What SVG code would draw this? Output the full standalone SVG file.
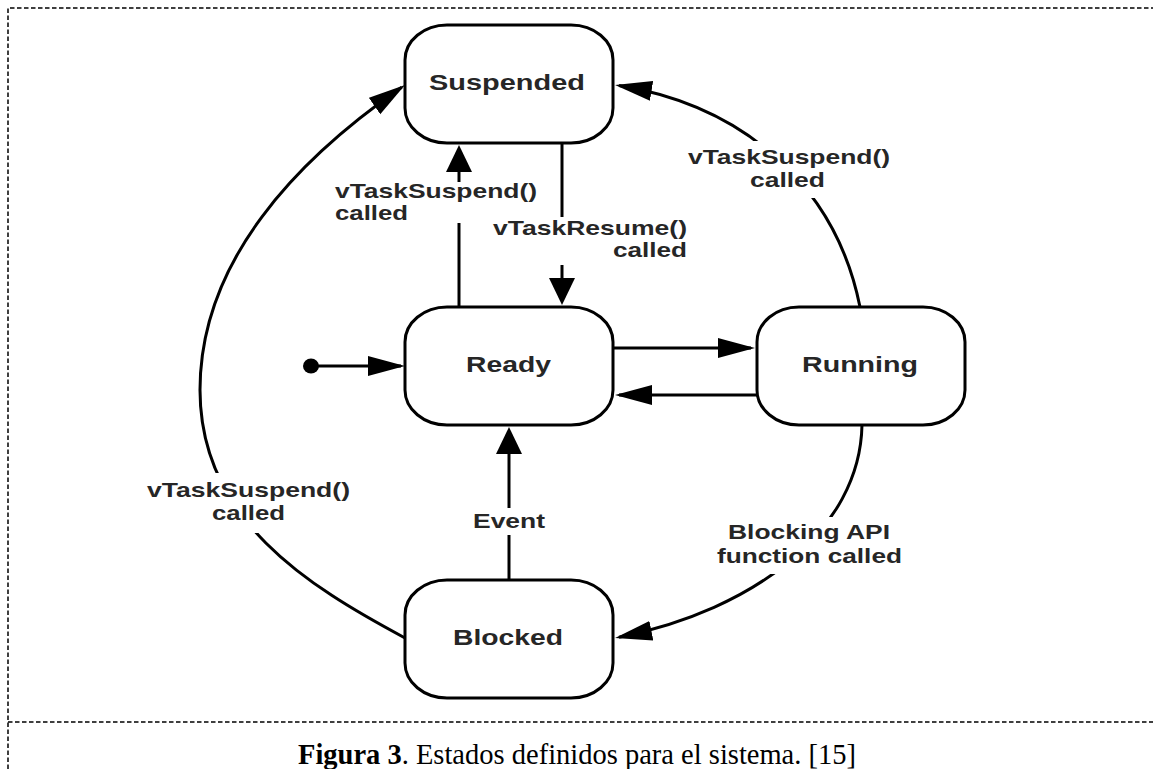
<svg xmlns="http://www.w3.org/2000/svg" width="1153" height="769" viewBox="0 0 1153 769">
<style>
.box{fill:#fff;stroke:#000;stroke-width:3}
.nl{font-family:"Liberation Sans",Arial,sans-serif;font-weight:bold;font-size:21.5px;fill:#262626}
.el{font-family:"Liberation Sans",Arial,sans-serif;font-weight:bold;font-size:21px;fill:#262626}
.edge{fill:none;stroke:#000;stroke-width:3}
.bg{fill:#fff}
.border{fill:none;stroke:#000;stroke-width:1.5;stroke-dasharray:4.5 2.5}
.cap{font-family:"Liberation Serif","Times New Roman",serif;font-size:28.5px;fill:#000}
</style>
<defs>
<marker id="ah" markerUnits="userSpaceOnUse" viewBox="0 0 38 22" markerWidth="38" markerHeight="22" refX="33" refY="11" orient="auto"><path d="M0,1 L37,11 L0,21 Z" fill="#000"/></marker>
<marker id="av" markerUnits="userSpaceOnUse" viewBox="0 0 28 28" markerWidth="28" markerHeight="28" refX="23" refY="14" orient="auto"><path d="M0,1 L27,14 L0,27 Z" fill="#000"/></marker>
</defs>
<rect width="1153" height="769" fill="#fff"/>
<g id="frame">
<path class="border" d="M8,769 L8,8 L1153,8"/>
<path class="border" d="M8,722 L1153,722"/>
</g>
<g id="connectors">
<g id="e-init">
<ellipse cx="311" cy="366" rx="8" ry="7.5" fill="#000"/>
<path class="edge" d="M311,366 L401,366" marker-end="url(#ah)"/>
</g>
<g id="e-ready-suspended">
<path class="edge" d="M459,307 L459,149" marker-end="url(#av)"/>
<rect class="bg" x="333" y="182" width="206" height="41"/>
<text class="el" x="335" y="198" textLength="202" lengthAdjust="spacingAndGlyphs">vTaskSuspend()</text>
<text class="el" x="335" y="220" textLength="73" lengthAdjust="spacingAndGlyphs">called</text>
</g>
<g id="e-suspended-ready">
<path class="edge" d="M562,143 L562,301" marker-end="url(#av)"/>
<rect class="bg" x="490" y="217" width="200" height="48"/>
<text class="el" x="493" y="235" textLength="194" lengthAdjust="spacingAndGlyphs">vTaskResume()</text>
<text class="el" x="613" y="257" textLength="74" lengthAdjust="spacingAndGlyphs">called</text>
</g>
<g id="e-ready-running">
<path class="edge" d="M613,348 L751,348" marker-end="url(#ah)"/>
</g>
<g id="e-running-ready">
<path class="edge" d="M757,395 L619,395" marker-end="url(#ah)"/>
</g>
<g id="e-running-suspended">
<path class="edge" d="M860,307 C836,187 745,106 619,85.6" marker-end="url(#ah)"/>
<rect class="bg" x="686" y="141" width="206" height="57"/>
<text class="el" x="688" y="164" textLength="202" lengthAdjust="spacingAndGlyphs">vTaskSuspend()</text>
<text class="el" x="750" y="187" textLength="75" lengthAdjust="spacingAndGlyphs">called</text>
</g>
<g id="e-running-blocked">
<path class="edge" d="M862,425 C860,530 755,610 619,637.2" marker-end="url(#ah)"/>
<rect class="bg" x="715" y="517" width="190" height="57"/>
<text class="el" x="728" y="539" textLength="162" lengthAdjust="spacingAndGlyphs">Blocking API</text>
<text class="el" x="717" y="563" textLength="185" lengthAdjust="spacingAndGlyphs">function called</text>
</g>
<g id="e-blocked-suspended">
<path class="edge" d="M405,638 C308,586 200,520 200,390 C200,260 298,159 401.7,87.3" marker-end="url(#ah)"/>
<rect class="bg" x="145" y="473" width="207" height="60"/>
<text class="el" x="147" y="497" textLength="203" lengthAdjust="spacingAndGlyphs">vTaskSuspend()</text>
<text class="el" x="212" y="520" textLength="73" lengthAdjust="spacingAndGlyphs">called</text>
</g>
<g id="e-blocked-ready">
<path class="edge" d="M509,580 L509,431" marker-end="url(#av)"/>
<rect class="bg" x="470" y="508" width="78" height="27"/>
<text class="el" x="473" y="528" textLength="72" lengthAdjust="spacingAndGlyphs">Event</text>
</g>
</g>
<g id="n-suspended">
<rect class="box" x="405" y="25" width="208" height="118" rx="42" ry="35"/>
<text class="nl" x="429" y="90" textLength="156" lengthAdjust="spacingAndGlyphs">Suspended</text>
</g>
<g id="n-ready">
<rect class="box" x="405" y="307" width="208" height="118" rx="42" ry="35"/>
<text class="nl" x="466" y="372" textLength="85" lengthAdjust="spacingAndGlyphs">Ready</text>
</g>
<g id="n-running">
<rect class="box" x="757" y="307" width="208" height="118" rx="42" ry="35"/>
<text class="nl" x="802" y="372" textLength="116" lengthAdjust="spacingAndGlyphs">Running</text>
</g>
<g id="n-blocked">
<rect class="box" x="405" y="580" width="208" height="118" rx="42" ry="35"/>
<text class="nl" x="453" y="645" textLength="110" lengthAdjust="spacingAndGlyphs">Blocked</text>
</g>
<g id="caption">
<text class="cap" x="298" y="764"><tspan font-weight="bold">Figura 3</tspan>. Estados definidos para el sistema. [15]</text>
</g>
</svg>
